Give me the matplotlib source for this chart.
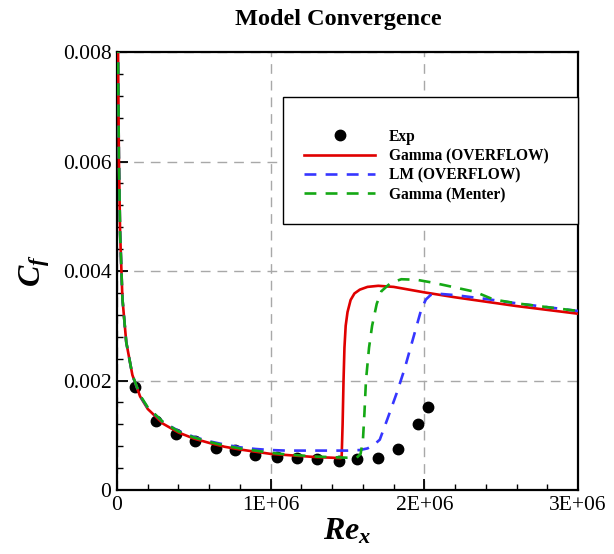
import matplotlib
matplotlib.use("Agg")
import matplotlib.pyplot as plt
from matplotlib.patches import Rectangle
from matplotlib.ticker import MultipleLocator

plt.rcParams['font.family'] = ['Liberation Serif', 'DejaVu Serif']
plt.rcParams['mathtext.fontset'] = 'custom'
plt.rcParams['mathtext.rm'] = 'Liberation Serif'
plt.rcParams['mathtext.it'] = 'Liberation Serif:italic'
plt.rcParams['mathtext.bf'] = 'Liberation Serif:bold'
plt.rcParams['mathtext.bfit'] = 'Liberation Serif:italic:bold'

# Experimental skin friction
exp_re = [1.17e5, 2.52e5, 3.82e5, 5.05e5, 6.42e5, 7.70e5, 9.00e5, 1.039e6,
          1.173e6, 1.303e6, 1.443e6, 1.56e6, 1.697e6, 1.826e6, 1.961e6, 2.026e6]
exp_cf = [0.00189, 0.00126, 0.00102, 0.000895, 0.000773, 0.000725, 0.000645, 0.000608,
          0.00059, 0.00056, 0.000535, 0.00056, 0.00059, 0.000743, 0.0012, 0.00152]

# Gamma (OVERFLOW)
gam_re = [3000, 7000, 12000, 20000, 35000, 60000, 100000, 150000, 200000, 300000,
          400000, 500000, 600000, 700000, 800000, 900000, 1000000, 1100000, 1200000,
          1300000, 1400000, 1455000, 1462000, 1468000, 1474000, 1480000, 1488000,
          1500000, 1520000, 1545000, 1580000, 1630000, 1700000, 1800000, 1900000,
          2000000, 2200000, 2400000, 2600000, 2800000, 3000000]
gam_cf = [0.0121, 0.0079, 0.0061, 0.0047, 0.0035, 0.0027, 0.0021, 0.00171, 0.00148,
          0.00121, 0.00105, 0.00094, 0.00086, 0.00079, 0.00074, 0.00070, 0.00066,
          0.00064, 0.00062, 0.00060, 0.00059, 0.00058, 0.00062, 0.0012, 0.0020,
          0.0026, 0.0030, 0.00325, 0.00347, 0.00359, 0.00366, 0.00371, 0.00373,
          0.00371, 0.00366, 0.00361, 0.00352, 0.00344, 0.00336, 0.00329, 0.00322]

# LM (OVERFLOW)
lm_re = [3000, 7000, 12000, 20000, 35000, 60000, 100000, 150000, 200000, 300000,
         400000, 500000, 600000, 700000, 800000, 900000, 1000000, 1100000, 1200000,
         1300000, 1400000, 1500000, 1580000, 1630000, 1670000, 1710000, 1760000,
         1820000, 1870000, 1910000, 1950000, 1980000, 2010000, 2040000, 2070000,
         2200000, 2400000, 2600000, 2800000, 3000000]
lm_cf = [0.0121, 0.0079, 0.0061, 0.0047, 0.0035, 0.0027, 0.0021, 0.00172, 0.00150,
         0.00124, 0.00108, 0.00097, 0.00089, 0.00083, 0.00078, 0.00075, 0.00073,
         0.00072, 0.00072, 0.00072, 0.00072, 0.00072, 0.00073, 0.00076, 0.00082,
         0.00092, 0.0013, 0.00177, 0.0022, 0.0026, 0.0030, 0.0033, 0.00348,
         0.00356, 0.00359, 0.00356, 0.00349, 0.00341, 0.00334, 0.00327]

# Gamma (Menter)
men_re = [3000, 7000, 12000, 20000, 35000, 60000, 100000, 150000, 200000, 300000,
          400000, 500000, 600000, 700000, 800000, 900000, 1000000, 1100000, 1200000,
          1300000, 1400000, 1500000, 1560000, 1585000, 1600000, 1610000, 1620000,
          1640000, 1660000, 1690000, 1720000, 1780000, 1850000, 1950000, 2050000,
          2150000, 2330000, 2450000, 2600000, 2800000, 3000000]
men_cf = [0.0121, 0.0079, 0.0061, 0.0047, 0.0035, 0.0027, 0.0021, 0.00173, 0.00151,
          0.00124, 0.00107, 0.00096, 0.00088, 0.00081, 0.00076, 0.00072, 0.00068,
          0.00065, 0.00063, 0.00061, 0.00060, 0.00059, 0.00059, 0.00066, 0.0009,
          0.0014, 0.0020, 0.0026, 0.0030, 0.0034, 0.00363, 0.00378, 0.00385,
          0.00384, 0.00379, 0.00373, 0.00362, 0.00348, 0.00341, 0.00334, 0.00327]

x_ticks = [0, 1e6, 2e6, 3e6]
x_tick_labels = ['0', '1E+06', '2E+06', '3E+06']
y_ticks = [0, 0.002, 0.004, 0.006, 0.008]
y_tick_labels = ['0', '0.002', '0.004', '0.006', '0.008']

fig = plt.figure(figsize=(6.14, 5.54), dpi=100)
ax = fig.add_axes([0.1906, 0.1155, 0.7508, 0.7906])

ax.plot(exp_re, exp_cf, 'o', color='black', ms=7.5, zorder=2, label='Exp')
ax.plot(gam_re, gam_cf, '-', color='#e00000', lw=1.9, zorder=3,
        label='Gamma (OVERFLOW)')
ax.plot(lm_re, lm_cf, '--', color='#3636ff', lw=1.9, dashes=(4.5, 3.5), zorder=4,
        label='LM (OVERFLOW)')
ax.plot(men_re, men_cf, '--', color='#14a814', lw=1.9, dashes=(4.5, 3.5), zorder=5,
        label='Gamma (Menter)')

ax.set_xlim(0, 3e6)
ax.set_ylim(0, 0.008)
ax.set_xticks(x_ticks)
ax.set_xticklabels(x_tick_labels)
ax.set_yticks(y_ticks)
ax.set_yticklabels(y_tick_labels)
ax.xaxis.set_minor_locator(MultipleLocator(2e5))
ax.yaxis.set_minor_locator(MultipleLocator(0.0004))
ax.tick_params(which='both', direction='in', top=False, right=False,
               labelsize=15.5, width=1.3, pad=4)
ax.tick_params(which='major', length=8)
ax.tick_params(which='minor', length=4, width=1.0)
for s in ax.spines.values():
    s.set_linewidth(1.6)

ax.grid(True, which='major', color='#a8a8a8', linestyle=(0, (7, 5)), lw=1.0)
ax.set_axisbelow(True)

fig.text(0.5505, 0.964, 'Model Convergence', fontsize=17.5, fontweight='bold',
         ha='center', va='center')
ax.set_xlabel(r'$\mathbfit{Re}_{\mathbfit{x}}$', fontsize=23, labelpad=2)
ax.set_ylabel(r'$\mathbfit{C}_{\mathbfit{f}}$', fontsize=23, labelpad=8)

# Legend box
ax.add_patch(Rectangle((0.360, 0.607), 0.640, 0.290, transform=ax.transAxes,
                       facecolor='white', edgecolor='black', lw=1.0, zorder=9,
                       clip_on=False))
leg = ax.legend(loc='upper left', bbox_to_anchor=(0.405, 0.825), frameon=False,
                prop={'weight': 'bold', 'size': 11.2}, handlelength=4.6,
                handletextpad=0.85, labelspacing=0.22, borderpad=0,
                borderaxespad=0, numpoints=1)
leg.set_zorder(10)

fig.savefig('out.png', dpi=100)
